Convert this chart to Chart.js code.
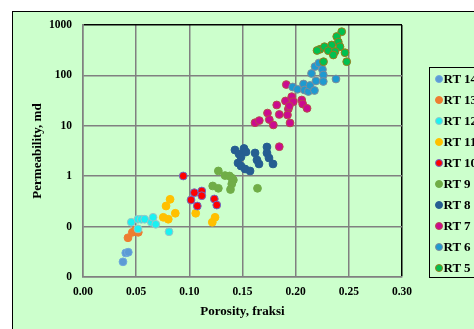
<!DOCTYPE html>
<html>
<head>
<meta charset="utf-8">
<script src="https://cdn.jsdelivr.net/npm/chart.js@4.4.0/dist/chart.umd.min.js"></script>
<style>
  html, body { margin: 0; padding: 0; background: #ffffff; overflow: hidden; width: 474px; height: 329px; }
  #frame { position: absolute; left: 12px; top: 11px; width: 480px; height: 330px; border: 1px solid #000; background: #CCFFCC; }
  #plot { position: absolute; left: 0; top: 0; }
  #legend { position: absolute; left: 416px; top: 55px; width: 80px; height: 209px; border: 1px solid #000;
            font: bold 13px "Liberation Serif", "Times New Roman", serif; color: #000; }
  .row { height: 21.05px; display: flex; align-items: center; white-space: nowrap; }
  .dot { width: 6px; height: 6px; border-radius: 50%; border: 1px solid; margin-left: 4.5px; margin-right: 1px; box-sizing: content-box; }
</style>
</head>
<body>
<div id="frame">
  <canvas id="plot" width="470" height="325"></canvas>
  <div id="legend"></div>
</div>
<script>
// Porosity (fraction) vs permeability (md) per rock type: [porosity, permeability]
const rt14 = [[0.0376, 0.020], [0.0402, 0.030], [0.0426, 0.031]];
const rt13 = [[0.0423, 0.060], [0.0464, 0.077], [0.0495, 0.086], [0.0520, 0.077]];
const rt12 = [[0.0454, 0.122], [0.0517, 0.140], [0.0548, 0.140], [0.0580, 0.140], [0.0643, 0.122],
              [0.0659, 0.153], [0.0684, 0.111], [0.0517, 0.090], [0.0809, 0.079]];
const rt11 = [[0.0819, 0.348], [0.0781, 0.256], [0.0868, 0.184], [0.0755, 0.153], [0.0802, 0.140],
              [0.1060, 0.184], [0.1216, 0.122], [0.1242, 0.153]];
const rt10 = [[0.0943, 1.01], [0.1047, 0.471], [0.1117, 0.508], [0.1117, 0.410], [0.1016, 0.337],
              [0.1075, 0.256], [0.1235, 0.353], [0.1258, 0.268]];
const rt9  = [[0.1273, 1.27], [0.1336, 1.03], [0.1378, 1.01], [0.1414, 0.84], [0.1399, 0.70],
              [0.1387, 0.545], [0.1220, 0.64], [0.1273, 0.575], [0.1641, 0.575], [0.1400, 0.92]];
const rt8  = [[0.1429, 3.31], [0.1467, 2.76], [0.1514, 3.55], [0.1533, 3.02], [0.1486, 2.40],
              [0.1458, 1.83], [0.1486, 1.59], [0.1524, 1.39], [0.1571, 1.27], [0.1618, 2.89],
              [0.1636, 2.10], [0.1655, 1.75], [0.1730, 3.80], [0.1730, 2.89], [0.1749, 2.30], [0.1787, 1.75]];
const rt7  = [[0.1618, 11.5], [0.1658, 12.7], [0.1735, 17.9], [0.1752, 13.3], [0.1790, 10.4],
              [0.1822, 25.9], [0.1846, 16.8], [0.1912, 65.9], [0.1904, 31.1], [0.1931, 21.5],
              [0.1947, 11.4], [0.1923, 16.4], [0.1963, 37.8], [0.1978, 30.1], [0.2057, 32.5],
              [0.2066, 27.1], [0.2107, 22.2], [0.1940, 24.7], [0.1846, 3.85]];
const rt6  = [[0.1972, 58.9], [0.2017, 53.0], [0.2074, 67.5], [0.2083, 51.3], [0.2119, 47.9],
              [0.2135, 63.1], [0.2177, 50.2], [0.2191, 77.5], [0.2149, 109], [0.2182, 150],
              [0.2219, 176], [0.2252, 131], [0.2260, 102], [0.2260, 75.7], [0.2379, 84.9]];
const rt5  = [[0.2433, 736], [0.2386, 591], [0.2401, 460], [0.2339, 401], [0.2417, 371],
              [0.2229, 330], [0.2271, 371], [0.2307, 309], [0.2370, 298], [0.2354, 254],
              [0.2464, 282], [0.2480, 187], [0.2262, 187], [0.2201, 312]];

const seriesNames = ['RT 14', 'RT 13', 'RT 12', 'RT 11', 'RT 10', 'RT 9', 'RT 8', 'RT 7', 'RT 6', 'RT 5'];
const seriesData = [rt14, rt13, rt12, rt11, rt10, rt9, rt8, rt7, rt6, rt5];
const fillColors = ['#5B9BD5', '#ED7D31', '#1AF2F2', '#FFC000', '#FF0000', '#70AD47', '#255E91', '#CC0A8F', '#1E9AD0', '#00C050'];
const edgeColors = ['#6FA8DC', '#ED7D31', '#9CC4C4', '#FFC000', '#6B6BC8', '#70AD47', '#255E91', '#B84A4A', '#7F8C99', '#9C7A1A'];

const yTickValues = [0.01, 0.1, 1, 10, 100, 1000];
const yTickLabels = ['0', '0', '1', '10', '100', '1000'];

const serif = '"Liberation Serif", "Times New Roman", serif';
const gridGray = '#808080';

const datasets = seriesNames.map((name, i) => ({
  label: name,
  data: seriesData[i].map(p => ({ x: p[0], y: p[1] })),
  backgroundColor: fillColors[i],
  borderColor: edgeColors[i],
  borderWidth: 1,
  pointRadius: 3.9,
  pointHoverRadius: 3.9,
  order: seriesNames.length - i
}));

new Chart(document.getElementById('plot'), {
  type: 'scatter',
  data: { datasets },
  options: {
    responsive: false,
    animation: false,
    events: [],
    layout: { padding: { top: 13, right: 81, left: 0, bottom: 0 } },
    plugins: { legend: { display: false }, tooltip: { enabled: false } },
    scales: {
      x: {
        type: 'linear',
        min: 0, max: 0.3,
        afterFit: s => { s.height = 60; },
        ticks: {
          stepSize: 0.05,
          padding: 0,
          color: '#000',
          font: { family: serif, size: 11.5, weight: 'bold' },
          callback: v => Number(v).toFixed(2)
        },
        grid: {
          drawTicks: true,
          tickLength: 8,
          tickColor: 'rgba(0,0,0,0)',
          lineWidth: 1.5,
          color: c => (c.tick && Math.abs(c.tick.value - 0.3) < 1e-9) ? '#000' : gridGray
        },
        border: { color: gridGray, width: 1.5 },
        title: {
          display: true,
          text: 'Porosity, fraksi',
          color: '#000',
          font: { family: serif, size: 13, weight: 'bold' },
          padding: { top: 0, bottom: 18 }
        }
      },
      y: {
        type: 'logarithmic',
        min: 0.01, max: 1000,
        afterFit: s => { s.width = 70; },
        afterBuildTicks: s => { s.ticks = yTickValues.map(v => ({ value: v })); },
        ticks: {
          padding: 0,
          color: '#000',
          font: { family: serif, size: 11.5, weight: 'bold' },
          callback: (v, i) => yTickLabels[i]
        },
        grid: {
          drawTicks: true,
          tickLength: 11,
          tickColor: 'rgba(0,0,0,0)',
          lineWidth: 1.5,
          color: c => (c.tick && c.tick.value === 1000) ? '#000' : gridGray
        },
        border: { color: gridGray, width: 1.5 },
        title: {
          display: true,
          text: 'Permeability, md',
          color: '#000',
          font: { family: serif, size: 13, weight: 'bold' },
          padding: { top: 17, bottom: 0 }
        }
      }
    }
  }
});

// Legend box built from the same series names and colours
const legend = document.getElementById('legend');
seriesNames.forEach((name, i) => {
  const row = document.createElement('div');
  row.className = 'row';
  const dot = document.createElement('span');
  dot.className = 'dot';
  dot.style.background = fillColors[i];
  dot.style.borderColor = edgeColors[i];
  const txt = document.createElement('span');
  txt.textContent = name;
  row.appendChild(dot);
  row.appendChild(txt);
  legend.appendChild(row);
});
</script>
</body>
</html>
